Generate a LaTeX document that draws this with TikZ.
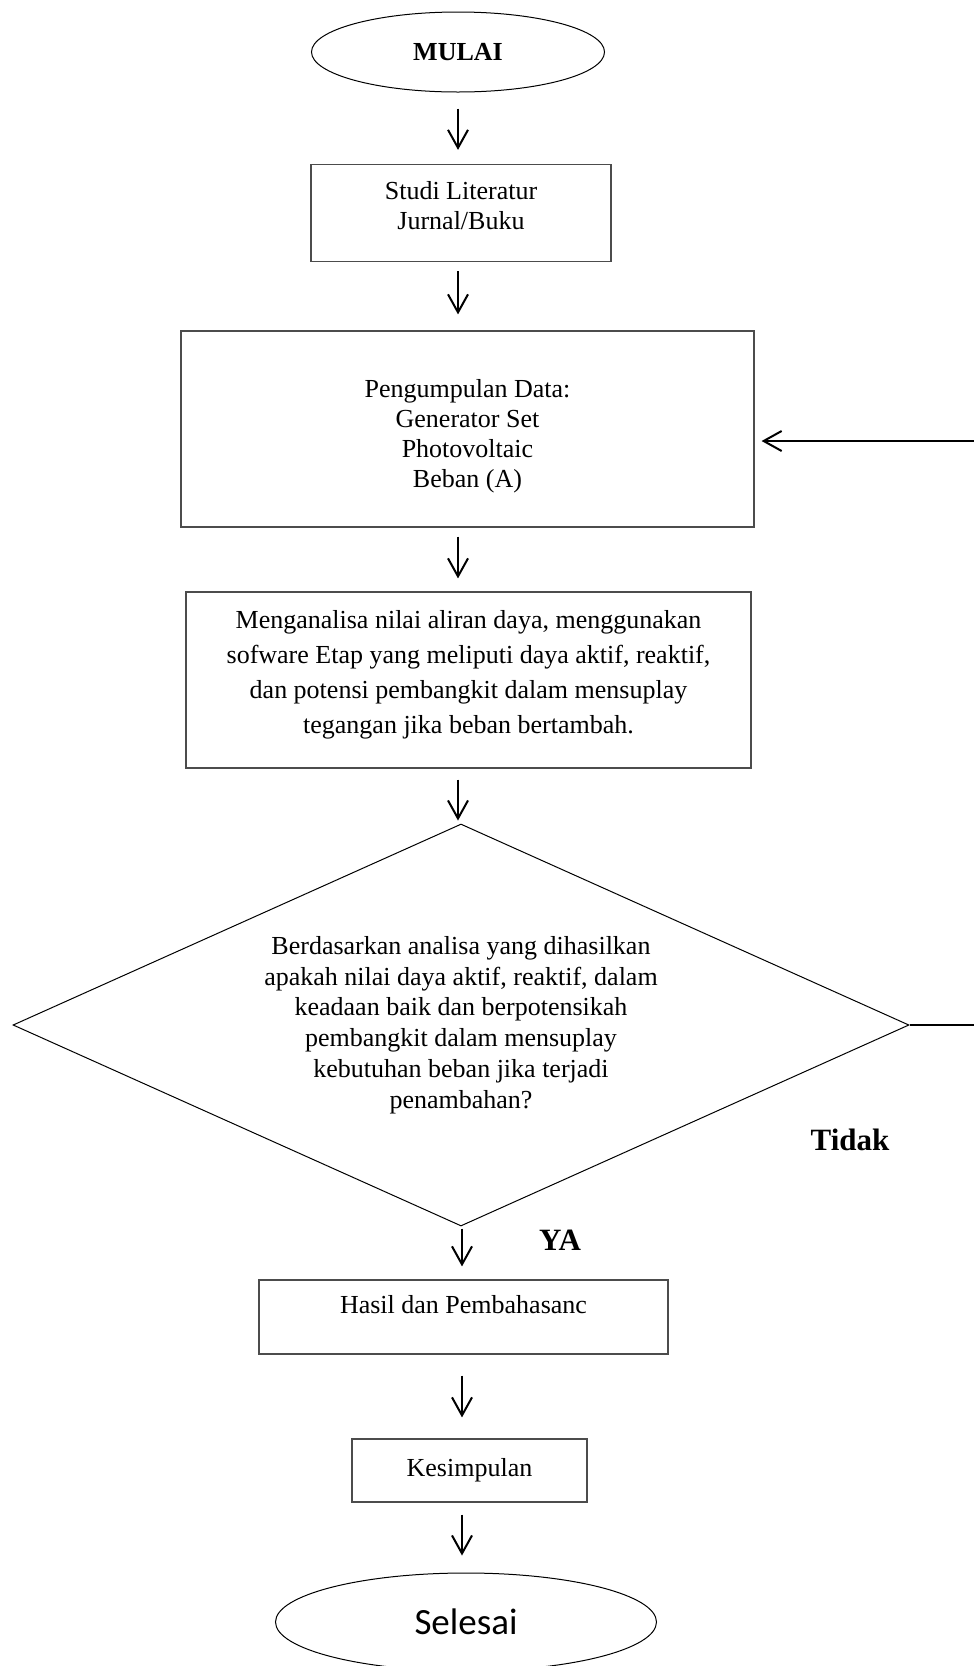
\documentclass[tikz,border=0pt]{standalone}
\usepackage{fontspec}
\setmainfont{Liberation Serif}
\newfontfamily\calibri{Carlito}
\usetikzlibrary{arrows.meta,%
                shapes.geometric,positioning}

\tikzset{
  kotak/.style={draw=black!70, line width=0.6pt, rectangle, align=center,
                inner sep=0pt, font=\fontsize{13}{15}\selectfont},
  oval/.style={draw, ellipse, line width=0.5pt, inner sep=0pt},
  panah/.style={-{Straight Barb[length=9pt,width=10pt]}, line width=1pt},
  garis/.style={-, line width=1pt},
  label/.style={font=\fontsize{15.5}{18}\selectfont\bfseries}
}

\begin{document}
\begin{tikzpicture}[x=0.5pt,y=-0.5pt]
\useasboundingbox (0,0) rectangle (974,1666);

% kolom panah
\coordinate (kol1) at (458,0);
\coordinate (kol2) at (462,0);

\node[oval, minimum width=146.5pt, minimum height=40pt,
      font=\fontsize{13}{15}\selectfont\bfseries] (mulai) at (458,52) {MULAI};

\node[kotak, minimum width=150pt, minimum height=48.5pt] (studi) at (461,213)
     {Studi Literatur\\Jurnal/Buku\rule[-7.8pt]{0pt}{0pt}};

\node[kotak, minimum width=286.5pt, minimum height=98pt] (data) at (467.5,429)
     {\rule{0pt}{16.4pt}Pengumpulan Data:\\Generator Set\\Photovoltaic\\Beban (A)};

\node[kotak, minimum width=282.5pt, minimum height=88pt,
      font=\fontsize{13}{17.5}\selectfont] (analisa) at (468.5,680)
     {Menganalisa nilai aliran daya, menggunakan\\
      sofware Etap yang meliputi daya aktif, reaktif,\\
      dan potensi pembangkit dalam mensuplay\\
      tegangan jika beban bertambah.\rule[-8.4pt]{0pt}{0pt}};

\node[diamond, draw, line width=0.5pt, align=center, inner sep=0pt, aspect=2.23,
      minimum width=448pt, minimum height=201pt,
      font=\fontsize{13}{15.4}\selectfont] (cek) at (461,1025)
     {Berdasarkan analisa yang dihasilkan\\
      apakah nilai daya aktif, reaktif, dalam\\
      keadaan baik dan berpotensikah\\
      pembangkit dalam mensuplay\\
      kebutuhan beban jika terjadi\\
      penambahan?};

\node[kotak, minimum width=204.5pt, minimum height=37pt,
      text height=9pt, text depth=13pt] (hasil) at (463.5,1317)
     {Hasil dan Pembahasanc};

\node[kotak, minimum width=117.5pt, minimum height=31.5pt] (simpul) at (469.5,1470.5)
     {Kesimpulan};

\node[oval, minimum width=190.5pt, minimum height=49pt,
      font=\fontsize{18.5}{22}\selectfont\calibri] (selesai) at (466,1622) {Selesai};

\node[label] (ya) at (560,1240) {YA};
\node[label] (tidak) at (850,1140) {Tidak};

% panah turun
\draw[panah, shorten <=8pt, shorten >=7pt] (mulai.south -| kol1) -- (studi.north -| kol1);
\draw[panah, shorten <=4.5pt, shorten >=8pt] (studi.south -| kol1) -- (data.north -| kol1);
\draw[panah, shorten <=4.5pt, shorten >=6.5pt] (data.south -| kol1) -- (analisa.north -| kol1);
\draw[panah, shorten <=5.5pt, shorten >=1.5pt] (analisa.south -| kol1) -- (cek.north -| kol1);
\draw[panah, shorten <=1pt, shorten >=6.5pt] (cek.south -| kol2) -- (hasil.north -| kol2);
\draw[panah, shorten <=10.5pt, shorten >=10.5pt] (hasil.south -| kol2) -- (simpul.north -| kol2);
\draw[panah, shorten <=6pt, shorten >=8.5pt] (simpul.south -| kol2) -- (selesai.north -| kol2);

% jalur kembali (Tidak)
\coordinate (ka) at (974,1025);
\coordinate (kb) at (974,441);
\draw[garis] (cek.east) -- (ka);
\draw[panah, shorten >=3.5pt] (kb) -- (kb -| data.east);
\end{tikzpicture}
\end{document}
